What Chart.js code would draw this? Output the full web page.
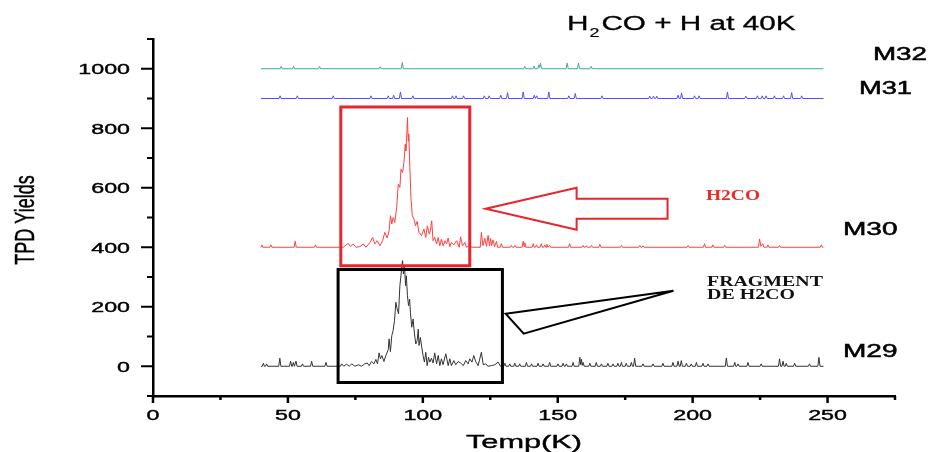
<!DOCTYPE html>
<html>
<head>
<meta charset="utf-8">
<script src="https://cdn.jsdelivr.net/npm/chart.js@4"></script>
<style>
  html, body { margin: 0; padding: 0; background: #fff; }
  #wrap { width: 930px; height: 452px; }
</style>
</head>
<body>
<div id="wrap"><canvas id="graf" width="930" height="452"></canvas></div>
<script>
// axis ticks
const xMajor = [0, 50, 100, 150, 200, 250];
const xMinor = [25, 75, 125, 175, 225, 275];
const xLabels = ["0", "50", "100", "150", "200", "250"];
const yMajor = [0, 200, 400, 600, 800, 1000];
const yMinor = [-100, 100, 300, 500, 700, 900, 1100];
const yLabels = ["0", "200", "400", "600", "800", "1000"];

// series, [temp, yield]
const m32 = [[40,1000],[47.1,1000],[47.5,1008],[47.9,1000],[51.7,1000],[52.1,1008],[52.5,1000],
  [61.3,1000],[61.7,1008],[62.1,1000],[83.8,1000],[84.2,1007],[84.6,1000],[92.0,1000],[92.4,1021],[92.8,1000],
  [137.4,1000],[137.8,1008],[138.2,1000],[140.8,1000],[141.2,1009],[141.6,1000],[142.6,1000],[143.0,1013],
  [143.3,1004],[143.6,1019],[144.0,1000],[153.1,1000],[153.5,1019],[153.9,1000],[157.3,1000],[157.7,1019],
  [158.1,1000],[162.0,1000],[162.4,1008],[162.8,1000],[248.5,1000]];

const m31 = [[40,900],[46.7,900],[47.1,909],[47.5,900],[53.1,900],[53.5,909],[53.9,900],[66.4,900],[66.8,909],[67.2,900],
  [80.4,900],[80.8,909],[81.2,900],[86.8,900],[87.2,909],[87.6,900],[88.8,900],[89.2,911],[89.6,900],
  [91.3,900],[91.7,922],[92.1,900],[95.9,900],[96.3,909],[96.7,900],[110.6,900],[111.0,909],[111.4,900],
  [111.9,900],[112.3,909],[112.7,900],[114.7,900],[115.1,909],[115.5,900],[122.4,900],[122.8,909],[123.2,900],
  [124.2,900],[124.6,909],[125.0,900],[128.5,900],[128.9,911],[129.3,900],[131.0,900],[131.4,920],[131.8,900],
  [136.8,900],[137.2,922],[137.6,900],[140.9,900],[141.3,911],[141.7,900],[141.8,900],[142.2,909],[142.6,900],
  [146.3,900],[146.7,922],[147.1,900],[153.7,900],[154.1,909],[154.5,900],[156.1,900],[156.5,917],[156.9,900],
  [166.0,900],[166.4,909],[166.8,900],[183.7,900],[184.1,908],[184.5,900],[185.1,900],[185.5,908],[185.9,900],
  [186.3,900],[186.7,908],[187.1,900],[194.2,900],[194.6,911],[195.0,900],[195.5,900],[195.9,919],[196.3,900],
  [200.3,900],[200.7,909],[201.1,900],[202.0,900],[202.4,909],[202.8,900],[212.5,900],[212.9,922],[213.3,900],
  [219.3,900],[219.7,908],[220.1,900],[223.6,900],[224.0,909],[224.4,900],[225.4,900],[225.8,909],[226.2,900],
  [226.8,900],[227.2,909],[227.6,900],[229.9,900],[230.3,909],[230.7,900],[233.3,900],[233.7,909],[234.1,900],
  [236.3,900],[236.7,920],[237.1,900],[240.0,900],[240.4,909],[240.8,900],[248.5,900]];

const m30 = [[40,400],[40.3,408],[40.7,400],[43.3,400],[43.7,408],[44.1,400],[52.3,400],[52.7,420],[53.1,400],
  [59.8,400],[60.2,408],[60.6,400],[70.5,400],
  [72.35,413],[73.2,402],[74.2,411],[75.2,400],[76.7,402],[77.9,411],[78.9,400],[80.4,416],[81.4,433],[82.2,411],
  [83.1,422],[84.1,405],[85.1,422],[85.9,450],[86.8,431],[87.5,455],[88.0,506],[88.5,478],[89.0,500],[89.6,483],
  [90.3,534],[90.9,612],[91.5,601],[91.9,662],[92.5,651],[93.0,685],[93.5,746],[93.7,724],[94.1,785],[94.3,836],
  [94.6,757],[94.8,780],[95.2,668],[95.6,567],[96.1,506],[96.7,495],[97.3,472],[97.9,487],[98.6,450],[99.5,439],
  [100.4,461],[101.1,433],[101.7,472],[102.4,444],[102.8,455],[103.3,489],[103.8,422],[104.4,433],[105.1,411],
  [105.7,433],[106.3,405],[106.9,427],[107.5,405],[108.2,422],[108.8,411],[109.4,431],[110.0,402],[110.6,416],
  [111.5,408],[112.5,422],[113.5,400],[114.0,435],[114.7,405],[115.6,416],[116.2,400],[117.2,405],[118.0,400],
  [121.3,400],[121.7,450],[122.3,405],[123.0,430],[123.6,403],[124.2,440],[124.7,405],[125.1,430],[125.5,405],
  [126.0,425],[126.6,402],[127.3,420],[127.7,400],[128.7,400],[129.1,412],[129.5,400],[132.4,400],[132.8,406],
  [133.2,400],[133.7,400],[134.1,406],[134.5,400],[136.8,400],[137.2,420],[137.5,403],[137.8,415],[138.2,400],
  [140.5,400],[140.9,412],[141.3,400],[141.7,400],[142.1,408],[142.5,400],[143.5,400],[143.9,412],[144.3,400],
  [144.8,400],[145.2,408],[145.6,400],[145.7,400],[146.0,410],[146.4,400],[146.6,400],[147.0,406],[147.4,400],
  [154.0,400],[154.4,412],[154.8,400],[159.0,400],[159.4,406],[159.8,400],[160.2,400],[160.6,405],[161.0,400],
  [162.1,400],[162.5,406],[162.9,400],[165.2,400],[165.6,410],[166.0,400],[173.2,400],[173.6,406],[174.0,400],
  [180.0,400],[180.4,406],[180.8,400],[181.2,400],[181.6,405],[182.0,400],[197.9,400],[198.3,406],[198.7,400],
  [204.0,400],[204.4,412],[204.8,400],[207.1,400],[207.5,408],[207.9,400],[211.5,400],[211.9,406],[212.3,400],
  [224.4,400],[224.8,428],[225.3,403],[226.0,412],[226.4,400],[227.5,400],[227.9,408],[228.3,400],
  [231.8,400],[232.2,406],[232.6,400],[247.3,400],[247.7,408],[248.1,400],[248.5,400]];

const m29 = [[40,0],[40.5,0],[40.9,10],[41.3,0],[41.7,0],[42.1,8],[42.5,0],[46.6,0],[47.0,27],[47.4,0],
  [50.6,0],[51.0,17],[51.4,0],[51.6,0],[52.0,13],[52.4,0],[52.6,0],[53.0,17],[53.4,0],[55.0,0],[55.4,8],[55.8,0],
  [58.4,0],[58.8,17],[59.2,0],[63.7,0],[64.1,13],[64.5,0],[69.5,0],
  [69.9,8],[70.7,0],[71.7,7],[72.7,0],[73.7,8],[74.8,0],[76.1,5],[77.3,0],[78.5,8],[79.4,11],[80.1,2],[81.0,16],
  [81.9,8],[82.6,23],[83.2,8],[83.8,45],[84.3,25],[84.8,36],[85.6,16],[86.3,36],[87.2,56],[87.5,92],[88.0,49],
  [88.5,103],[89.0,120],[89.5,153],[90.0,215],[90.5,193],[91.0,176],[91.5,271],[91.9,304],[92.2,338],[92.5,355],
  [92.8,310],[93.2,340],[93.6,271],[93.9,304],[94.3,237],[94.7,204],[95.1,226],[95.4,181],[95.9,131],[96.4,159],
  [96.9,109],[97.4,75],[97.9,86],[98.3,125],[98.6,70],[99.1,97],[99.6,64],[100.1,36],[100.6,14],[101.1,47],
  [101.6,2],[102.1,30],[102.6,14],[103.2,27],[103.8,11],[104.4,45],[105.1,8],[105.7,36],[106.3,2],[106.9,25],
  [107.5,5],[108.5,42],[109.4,2],[110.0,25],[110.6,2],[111.5,19],[112.2,5],[113.1,16],[114.0,11],[115.0,2],
  [115.9,19],[116.8,8],[117.4,25],[118.2,14],[118.9,36],[119.6,16],[120.5,2],[121.7,47],[122.4,5],[123.3,8],
  [124.2,0],[125.4,2],[126.7,5],[127.9,14],[128.8,0],
  [130.0,0],[130.4,10],[130.8,0],[131.8,0],[132.2,8],[132.6,0],[133.7,0],[134.1,10],[134.5,0],[135.5,0],[135.9,8],
  [136.3,0],[138.0,0],[138.4,13],[138.8,0],[139.9,0],[140.3,8],[140.7,0],[142.3,0],[142.7,10],[143.1,0],
  [144.2,0],[144.6,8],[145.0,0],[146.6,0],[147.0,13],[147.4,0],[149.7,0],[150.1,8],[150.5,0],[151.6,0],[152.0,10],
  [152.4,0],[152.8,0],[153.2,8],[153.6,0],[155.3,0],[155.7,13],[156.1,0],[157.8,0],[158.2,30],[158.5,5],[158.8,24],
  [159.1,3],[159.4,13],[159.8,0],[161.5,0],[161.9,10],[162.3,0],[163.9,0],[164.3,13],[164.7,0],[165.8,0],[166.2,8],
  [166.6,0],[168.2,0],[168.6,10],[169.0,0],[170.1,0],[170.5,8],[170.9,0],[171.9,0],[172.3,10],[172.7,0],
  [173.2,0],[173.6,13],[174.0,0],[175.0,0],[175.4,10],[175.8,0],[176.9,0],[177.3,13],[177.7,0],[178.1,0],
  [178.5,27],[178.9,0],[181.2,0],[181.6,8],[182.0,0],[184.9,0],[185.3,8],[185.7,0],[188.6,0],[189.0,10],[189.4,0],
  [192.3,0],[192.7,13],[193.1,0],[194.2,0],[194.6,17],[195.0,0],[195.4,0],[195.8,19],[196.2,0],[197.3,0],
  [197.7,10],[198.1,0],[199.1,0],[199.5,8],[199.9,0],[201.0,0],[201.4,13],[201.8,0],[203.4,0],[203.8,10],
  [204.2,0],[205.3,0],[205.7,8],[206.1,0],[212.1,0],[212.5,28],[212.9,0],[215.2,0],[215.6,13],[216.0,0],
  [216.4,0],[216.8,8],[217.2,0],[220.1,0],[220.5,13],[220.9,0],[225.0,0],[225.4,8],[225.8,0],[231.8,0],
  [232.2,25],[232.6,0],[233.1,0],[233.5,17],[233.9,0],[234.3,0],[234.7,10],[235.1,0],[237.4,0],[237.8,10],
  [238.2,0],[242.9,0],[243.3,8],[243.7,0],[246.4,0],[246.8,30],[247.2,0],[248.5,0]];

// annotation boxes and arrows, in axis units
const redBox = [69.6, 117.4, 337.9, 871.5];
const blackBox = [68.6, 129.5, -54.7, 325.5];
const arrowX = [123.3, 157.0, 157.0, 190.7, 190.7, 157.0, 157.0];
const arrowY = [529.2, 599.7, 562.8, 562.8, 495.6, 495.6, 458.7];
const triX = [130.7, 192.9, 137.4];
const triY = [176.8, 254.0, 109.7];

const SANS = '"Liberation Sans", Arial, sans-serif';
const SERIF = '"Liberation Serif", "Times New Roman", serif';

function txt(ctx, s, x, y, font, sx, align, color, weight) {
  ctx.save();
  ctx.font = font;
  ctx.fillStyle = color;
  ctx.strokeStyle = color;
  ctx.textAlign = "left";
  ctx.textBaseline = "alphabetic";
  const w = ctx.measureText(s).width * sx;
  let x0 = x;
  if (align === "right") x0 = x - w;
  if (align === "center") x0 = x - w / 2;
  ctx.translate(x0, y);
  ctx.scale(sx, 1);
  ctx.fillText(s, 0, 0);
  if (weight) {
    ctx.lineWidth = weight;
    ctx.strokeText(s, 0, 0);
  }
  ctx.restore();
}

function fitTxt(ctx, s, x, y, font, width, color, weight) {
  ctx.font = font;
  const sx = width / ctx.measureText(s).width;
  txt(ctx, s, x, y, font, sx, "left", color, weight);
}

function seg(ctx, x1, y1, x2, y2) {
  ctx.beginPath();
  ctx.moveTo(x1, y1);
  ctx.lineTo(x2, y2);
  ctx.stroke();
}

function poly(ctx, xs, ys, px, py) {
  ctx.beginPath();
  xs.forEach((v, i) => {
    const X = px.getPixelForValue(v), Y = py.getPixelForValue(ys[i]);
    if (i === 0) ctx.moveTo(X, Y); else ctx.lineTo(X, Y);
  });
  ctx.closePath();
  ctx.stroke();
}

const extras = {
  id: "extras",
  afterDraw(chart) {
    const ctx = chart.ctx, xs = chart.scales.x, ys = chart.scales.y, a = chart.chartArea;
    ctx.save();
    ctx.strokeStyle = "#000";
    ctx.lineWidth = 2;
    yMajor.forEach(v => { const p = ys.getPixelForValue(v); seg(ctx, a.left - 12, p, a.left, p); });
    yMinor.forEach(v => { const p = ys.getPixelForValue(v); seg(ctx, a.left - 6, p, a.left, p); });
    ctx.lineWidth = 2.5;
    xMajor.forEach(v => { const p = xs.getPixelForValue(v); seg(ctx, p, a.bottom, p, a.bottom + 7); });
    xMinor.forEach(v => { const p = xs.getPixelForValue(v); seg(ctx, p, a.bottom, p, a.bottom + 4); });

    yMajor.forEach((v, i) => txt(ctx, yLabels[i], 130, ys.getPixelForValue(v) + 5.5, "15px " + SANS, 1.55, "right", "#000", 0.4));
    xMajor.forEach((v, i) => txt(ctx, xLabels[i], xs.getPixelForValue(v), 420, "15px " + SANS, 1.55, "center", "#000", 0.4));

    // axis titles
    fitTxt(ctx, "Temp(K)", 466, 447.5, "19px " + SANS, 116, "#000", 0.4);
    ctx.save();
    ctx.translate(33.5, 220);
    ctx.scale(1.55, 1);
    ctx.rotate(-Math.PI / 2);
    ctx.font = "18px " + SANS;
    ctx.fillStyle = "#000";
    ctx.strokeStyle = "#000";
    ctx.lineWidth = 0.3;
    ctx.textAlign = "center";
    ctx.fillText("TPD Yields", 0, 0);
    ctx.strokeText("TPD Yields", 0, 0);
    ctx.restore();

    // title with subscript
    ctx.font = "20px " + SANS;
    const wH = ctx.measureText("H").width, wR = ctx.measureText("CO + H at 40K").width;
    ctx.font = "12px " + SANS;
    const w2 = ctx.measureText("2").width;
    const sx = 230 / (wH + w2 + wR + 3);
    txt(ctx, "H", 567, 30, "20px " + SANS, sx, "left", "#000", 0.3);
    txt(ctx, "2", 567 + wH * sx + 1, 36.5, "12px " + SANS, sx, "left", "#000", 0.2);
    txt(ctx, "CO + H at 40K", 567 + (wH + w2) * sx + 3, 30, "20px " + SANS, sx, "left", "#000", 0.3);

    // series names
    fitTxt(ctx, "M32", 873, 60, "18px " + SANS, 54, "#000", 0.5);
    fitTxt(ctx, "M31", 859, 94, "18px " + SANS, 53, "#000", 0.5);
    fitTxt(ctx, "M30", 843, 235, "18px " + SANS, 54.5, "#000", 0.5);
    fitTxt(ctx, "M29", 843, 357.3, "18px " + SANS, 54.5, "#000", 0.5);

    // boxes and arrows
    ctx.lineJoin = "miter";
    ctx.lineWidth = 3;
    ctx.strokeStyle = "#e8242c";
    poly(ctx, [redBox[0], redBox[1], redBox[1], redBox[0]], [redBox[2], redBox[2], redBox[3], redBox[3]], xs, ys);
    ctx.strokeStyle = "#000";
    poly(ctx, [blackBox[0], blackBox[1], blackBox[1], blackBox[0]], [blackBox[2], blackBox[2], blackBox[3], blackBox[3]], xs, ys);
    ctx.lineWidth = 2;
    ctx.strokeStyle = "#e8242c";
    poly(ctx, arrowX, arrowY, xs, ys);
    ctx.strokeStyle = "#000";
    poly(ctx, triX, triY, xs, ys);

    fitTxt(ctx, "H2CO", 706, 199.5, "bold 14px " + SERIF, 54, "#f02828");
    fitTxt(ctx, "FRAGMENT", 707, 286, "bold 14px " + SERIF, 116, "#111");
    fitTxt(ctx, "DE H2CO", 707, 299, "bold 14px " + SERIF, 88, "#111");
    ctx.restore();
  }
};

function serija(data, color) {
  return { data, borderColor: color, borderWidth: 1, pointRadius: 0, tension: 0, fill: false };
}

new Chart(document.getElementById("graf").getContext("2d"), {
  type: "line",
  data: {
    datasets: [
      serija(m29, "#333333"),
      serija(m30, "#ff4040"),
      serija(m31, "#5050ff"),
      serija(m32, "#3daa9a")
    ]
  },
  options: {
    responsive: false,
    animation: false,
    devicePixelRatio: 1,
    layout: { padding: { left: 0, top: 39, right: 35, bottom: 0 } },
    plugins: { legend: { display: false }, tooltip: { enabled: false } },
    scales: {
      x: {
        type: "linear", min: 0, max: 275,
        grid: { display: false },
        border: { display: true, color: "#000", width: 2.5 },
        ticks: { display: false },
        afterFit: s => { s.height = 56; }
      },
      y: {
        type: "linear", min: -100, max: 1100,
        grid: { display: false },
        border: { display: true, color: "#000", width: 2.5 },
        ticks: { display: false },
        afterFit: s => { s.width = 153; }
      }
    }
  },
  plugins: [extras]
});
</script>
</body>
</html>
